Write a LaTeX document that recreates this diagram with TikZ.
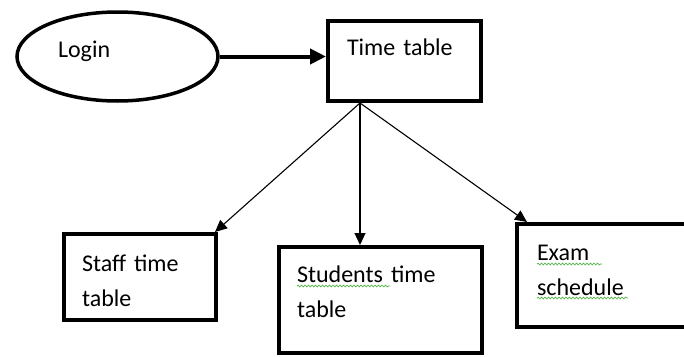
\documentclass[tikz,border=0pt]{standalone}
\usepackage{fontspec}
\setmainfont{Carlito}[WordSpace=0.55]
\usetikzlibrary{shapes.geometric,arrows.meta,decorations.pathmorphing}
\definecolor{spellgreen}{RGB}{80,180,70}

\begin{document}
\begin{tikzpicture}[x=1pt, y=-1pt, font={\fontsize{24}{35}\selectfont},
  oval/.style = {draw, ellipse, line width=3.5pt, minimum width=201pt, minimum height=89pt, text width=119pt, align=left, text height=16pt, text depth=15pt, inner sep=0pt},
  box/.style = {draw, rectangle, line width=4pt, anchor=north west, align=left, inner ysep=0pt},
  branch/.style = {line width=1.1pt, -{Triangle[length=12pt,width=11pt]}},
  squiggle/.style = {spellgreen, line width=0.7pt, decorate, decoration={snake, amplitude=0.9pt, segment length=3.5pt}}]
\useasboundingbox (0,0) rectangle (684,356);

\node[oval] (login) at (117.5,56.5) {Login};
\node[box, minimum width=153pt, minimum height=80pt, inner xsep=19pt, text width=115pt, text height=34pt, text depth=46pt] (time) at (326,19) {Time table};
\node[box, minimum width=152pt, minimum height=86pt, inner xsep=18pt, text width=116pt, text height=37pt, text depth=49pt] (staff) at (62,232) {Staff time\\table};
\node[box, minimum width=203pt, minimum height=106pt, inner xsep=18pt, text width=167pt, text height=35pt, text depth=71pt] (students) at (277,245) {Students time\\table};
\node[box, minimum width=173pt, minimum height=103pt, inner xsep=20pt, text width=133pt, text height=36pt, text depth=67pt] (exam) at (515,222) {Exam\\schedule};

\coordinate (hub) at ([xshift=34pt]time.south west);

\draw[line width=4pt, -{Triangle[length=16pt,width=15pt]}] (login.east) -- (login.east -| time.west);
\draw[branch] (hub) -- ([xshift=-3pt]staff.north east);
\draw[branch] (hub) -- (hub |- students.north);
\draw[branch] (hub) -- ([xshift=12pt]exam.north west);

% spelling marks
\draw[squiggle] ([shift={(20,41)}]students.north west) -- ++(93,0);
\draw[squiggle] ([shift={(22,42)}]exam.north west) -- ++(65,0);
\draw[squiggle] ([shift={(22,76)}]exam.north west) -- ++(91,0);

\end{tikzpicture}
\end{document}
